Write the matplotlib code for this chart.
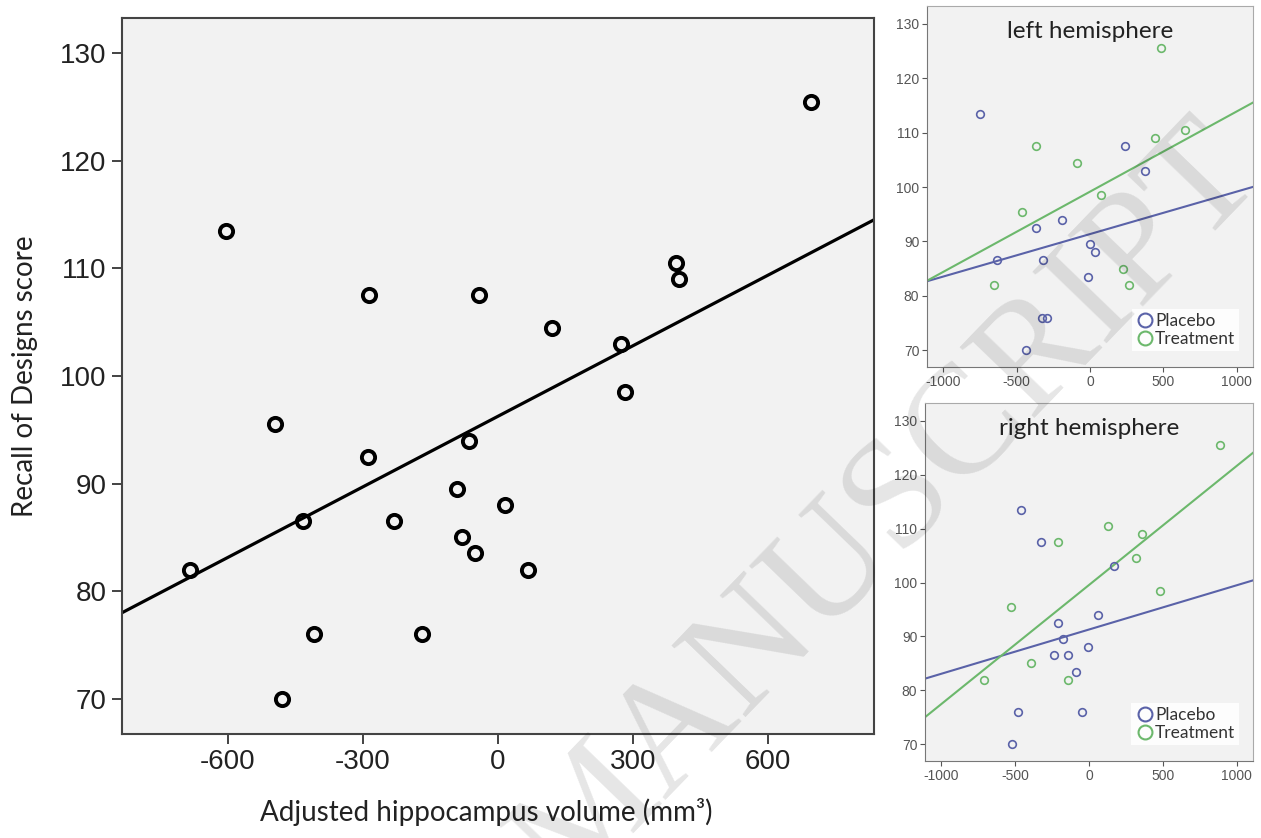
import numpy as np
import matplotlib
matplotlib.use("Agg")
import matplotlib.pyplot as plt
from matplotlib.lines import Line2D

plt.rcParams["axes.unicode_minus"] = False
plt.rcParams["font.family"] = ["Liberation Sans", "DejaVu Sans"]

# main panel: mean adjusted volume vs recall score
main_volume = [695, -605, 395, 402, -286, -42, 119, 274, 281, -495, -65, -289,
               -90, 15, -434, -230, -81, -52, -685, 66, -408, -169, -480]
main_score = [125.5, 113.5, 110.5, 109, 107.5, 107.5, 104.5, 103, 98.5, 95.5, 94, 92.5,
              89.5, 88, 86.5, 86.5, 85, 83.5, 82, 82, 76, 76, 70]

# left hemisphere
left_placebo_x = [-749, 241, 375, -192, -370, 0, 32, -632, -323, -16, -327, -293, -438]
left_placebo_y = [113.5, 107.5, 103, 94, 92.5, 89.5, 88, 86.5, 86.5, 83.5, 76, 76, 70]
left_treat_x = [485, 650, 440, -366, -88, 74, -463, 228, -652, 266]
left_treat_y = [125.5, 110.5, 109, 107.5, 104.5, 98.5, 95.5, 85, 82, 82]

# right hemisphere
right_placebo_x = [-461, -327, 170, 60, -208, -179, -7, -237, -139, -87, -482, -47, -520]
right_placebo_y = [113.5, 107.5, 103, 94, 92.5, 89.5, 88, 86.5, 86.5, 83.5, 76, 76, 70]
right_treat_x = [889, 130, 361, -208, 320, 479, -526, -390, -710, -139]
right_treat_y = [125.5, 110.5, 109, 107.5, 104.5, 98.5, 95.5, 85, 82, 82]

BLUE = "#5a62a8"
GREEN = "#6cb86c"
BG = "#f2f2f2"
CALIBRI_LIKE = ["Lato", "DejaVu Sans"]

fig = plt.figure(figsize=(12.61, 8.38), dpi=100)
W, H = 1261, 838


def add_axes_px(left, top, right, bottom):
    return fig.add_axes([left / W, 1 - bottom / H, (right - left) / W, (bottom - top) / H])


def fit_line(ax, x, y, **kw):
    k, b = np.polyfit(x, y, 1)
    xx = np.array(ax.get_xlim())
    ax.plot(xx, k * xx + b, **kw)


# ---- main panel
ax = add_axes_px(122, 18, 874, 734)
ax.set_facecolor(BG)
ax.set_xlim(-835, 835)
ax.set_ylim(66.7, 133.3)
ax.plot(main_volume, main_score, "o", ms=9.5, mfc="none", mec="black", mew=2.8, zorder=3)
fit_line(ax, main_volume, main_score, color="black", lw=2.3, zorder=2)
ax.set_xticks([-600, -300, 0, 300, 600])
ax.set_yticks(range(70, 131, 10))
ax.tick_params(labelsize=20, length=7, width=1.2, pad=4, colors="#222222")
for s in ax.spines.values():
    s.set_color("#444444")
    s.set_linewidth(1.5)
ax.set_xlabel("Adjusted hippocampus volume (mm³)", fontsize=20, family=CALIBRI_LIKE,
              color="#222222")
ax.set_ylabel("Recall of Designs score", fontsize=20, family=CALIBRI_LIKE, color="#222222")
ax.xaxis.set_label_coords(0.484, -0.09)
ax.yaxis.set_label_coords(-0.112, 0.5)


def side_panel(ax, title, px, py, tx, ty):
    ax.set_facecolor(BG)
    ax.set_xlim(-1110, 1110)
    ax.set_ylim(66.9, 133.3)
    ax.plot(px, py, "o", ms=5.5, mfc="none", mec=BLUE, mew=1.2, zorder=3)
    ax.plot(tx, ty, "o", ms=5.5, mfc="none", mec=GREEN, mew=1.2, zorder=3)
    fit_line(ax, px, py, color=BLUE, lw=1.5, zorder=2)
    fit_line(ax, tx, ty, color=GREEN, lw=1.5, zorder=2)
    ax.set_xticks([-1000, -500, 0, 500, 1000])
    ax.set_yticks(range(70, 131, 10))
    ax.tick_params(labelsize=10, length=3.5, width=0.8, pad=2, colors="#555555")
    ax.spines["left"].set_color("#777777")
    ax.spines["bottom"].set_color("#777777")
    ax.spines["top"].set_color("#aaaaaa")
    ax.spines["right"].set_color("#aaaaaa")
    ax.text(0.5, 0.93, title, transform=ax.transAxes, ha="center", va="center",
            fontsize=17.5, family=CALIBRI_LIKE, color="#222222")
    handles = [Line2D([], [], ls="none", marker="o", ms=10, mfc="none", mec=BLUE, mew=1.5),
               Line2D([], [], ls="none", marker="o", ms=10, mfc="none", mec=GREEN, mew=1.5)]
    leg = ax.legend(handles, ["Placebo", "Treatment"], loc="lower right",
                    bbox_to_anchor=(0.985, 0.02), frameon=True, fancybox=False,
                    handletextpad=0.1, labelspacing=0.1, borderpad=0.25,
                    handlelength=1.0, prop={"family": CALIBRI_LIKE, "size": 12.5})
    leg.get_frame().set_facecolor("white")
    leg.get_frame().set_edgecolor("none")
    leg.get_frame().set_alpha(0.9)
    for t in leg.get_texts():
        t.set_color("#333333")


ax_l = add_axes_px(927, 6, 1253, 367)
side_panel(ax_l, "left hemisphere", left_placebo_x, left_placebo_y, left_treat_x, left_treat_y)

ax_r = add_axes_px(925, 403, 1253, 761)
side_panel(ax_r, "right hemisphere", right_placebo_x, right_placebo_y, right_treat_x, right_treat_y)

# watermark
fig.text(0.705, 0.392, "MANUSCRIPT", rotation=46, rotation_mode="anchor",
         ha="center", va="center", fontsize=112, family="Liberation Serif",
         color="black", alpha=0.10, zorder=10)

fig.savefig("out.png", dpi=100)
